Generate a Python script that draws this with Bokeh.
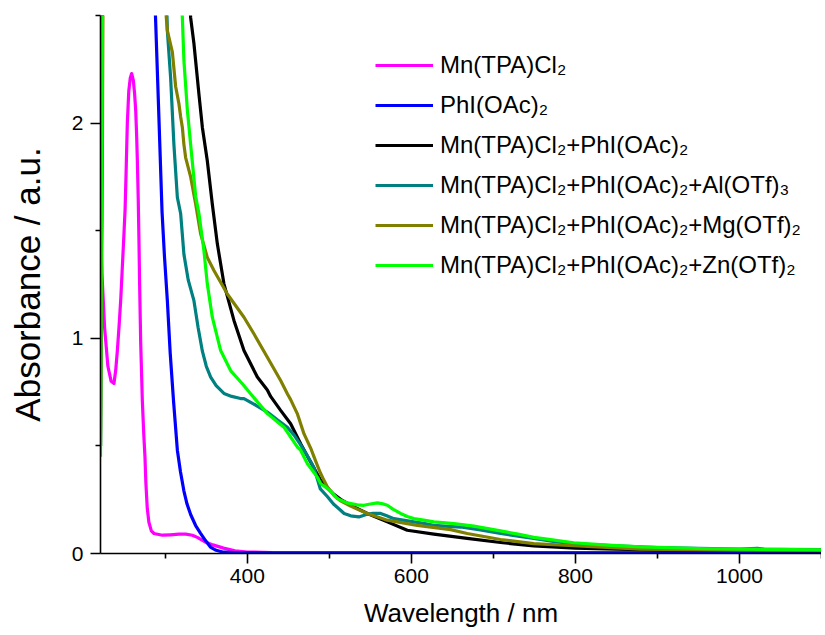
from bokeh.plotting import figure
from bokeh.models import Range1d, FixedTicker, Legend, LegendItem
from bokeh.embed import file_html
from bokeh.resources import INLINE

# ---- data ----
mn_nm = [221, 222.8, 226, 230, 234, 237.4, 239.5, 241.5, 243.5, 245.6, 247.6, 249.6, 251, 252.4, 253.7,
         255.5, 257.3, 259, 261, 262.5, 263.9, 265, 265.9, 267, 267.9, 268.7, 270, 272, 273.8, 275.2,
         276.3, 278, 280, 283, 286.2, 296.4, 306, 316.6, 325, 333, 339, 348, 358, 371, 385, 400, 430,
         500, 700, 900, 1100]
mn_abs = [1.55, 1.30, 1.05, 0.87, 0.80, 0.79, 0.85, 0.94, 1.05, 1.175, 1.33, 1.485, 1.60, 1.80, 2.0,
          2.15, 2.21, 2.23, 2.20, 2.14, 2.06, 1.95, 1.83, 1.65, 1.45, 1.25, 0.98, 0.71, 0.55, 0.45,
          0.33, 0.21, 0.145, 0.105, 0.093, 0.085, 0.087, 0.09, 0.09, 0.085, 0.075, 0.055, 0.04, 0.025,
          0.012, 0.007, 0.004, 0.003, 0.003, 0.003, 0.003]

phi_nm = [221, 250, 280, 286, 288, 292, 296, 299, 302.5, 306, 310, 314.7, 318.5, 322.7, 326.5, 331,
          337, 343, 349, 355, 362, 371, 385, 400, 500, 700, 900, 1100]
phi_abs = [3.0, 3.0, 2.9, 2.7, 2.5, 2.05, 1.59, 1.38, 1.175, 0.93, 0.71, 0.48, 0.38, 0.29, 0.23, 0.18,
           0.13, 0.094, 0.06, 0.03, 0.015, 0.006, 0.004, 0.003, 0.003, 0.003, 0.003, 0.003]

mix_nm = [221, 222, 223.5, 225, 300, 328, 330.9, 334.9, 341, 345.2, 351.2, 357.3, 363.4, 371.5, 383.7,
          395.9, 412.2, 424.4, 428.4, 440.6, 452.8, 465, 477.2, 489.4, 497.5, 505.6, 513.7, 525.9,
          546.3, 570.6, 595, 627.4, 668, 708.7, 749.3, 800, 850, 900, 1000, 1100]
mix_abs = [0.5, 1.6, 2.6, 3.0, 3.2, 2.7, 2.49, 2.37, 2.135, 1.98, 1.825, 1.624, 1.44, 1.253, 1.083,
           0.943, 0.82, 0.76, 0.73, 0.665, 0.603, 0.51, 0.425, 0.34, 0.305, 0.275, 0.252, 0.225,
           0.186, 0.147, 0.108, 0.09, 0.07, 0.051, 0.035, 0.025, 0.02, 0.017, 0.014, 0.012]

al_nm = [221, 222, 223.5, 225, 290, 300, 302.5, 306.5, 310.5, 314.7, 318.7, 322.7, 328, 334.9, 340,
         345.2, 350, 355.3, 362, 371.5, 381, 391.8, 395.9, 410, 424.4, 437, 448.8, 457, 465, 473,
         481.2, 489, 497.5, 505, 514, 518, 526, 536, 546, 553, 562.5, 570, 578.7, 590, 603, 615, 627,
         645, 660, 684, 708.7, 730, 749, 775, 800, 850, 900, 950, 1000, 1022, 1030, 1050, 1100]
al_abs = [0.5, 1.6, 2.6, 3.0, 3.2, 2.8, 2.43, 2.21, 1.90, 1.655, 1.58, 1.39, 1.27, 1.175, 1.05,
          0.94, 0.87, 0.82, 0.78, 0.744, 0.73, 0.72, 0.72, 0.69, 0.657, 0.62, 0.587, 0.55, 0.505, 0.455,
          0.40, 0.30, 0.265, 0.23, 0.20, 0.186, 0.175, 0.17, 0.182, 0.187, 0.186, 0.175, 0.162, 0.155,
          0.147, 0.14, 0.131, 0.126, 0.123, 0.11, 0.093, 0.08, 0.07, 0.055, 0.045, 0.035, 0.028, 0.024,
          0.021, 0.024, 0.02, 0.019, 0.018]

mg_nm = [221, 222, 223, 224, 225, 290, 300, 302.5, 308.6, 312.6, 316.6, 318.7, 320.8, 322.7, 324.8,
         330.9, 337, 343.1, 351.2, 359.3, 375.6, 395.9, 408, 424.4, 440.6, 448.8, 452.8, 460.9, 469,
         477.2, 481.2, 485.3, 489, 493.4, 497.5, 505.6, 513.7, 525.9, 546.3, 570.6, 607.2, 647.8, 668.1,
         708.7, 749.3, 798, 879.3, 1001, 1100]
mg_abs = [0.5, 1.2, 1.55, 2.6, 3.0, 3.2, 2.55, 2.43, 2.33, 2.17, 2.09, 2.03, 1.98, 1.90, 1.84,
          1.75, 1.624, 1.485, 1.376, 1.315, 1.206, 1.098, 1.021, 0.912, 0.804, 0.742, 0.715, 0.65, 0.557,
          0.49, 0.45, 0.41, 0.375, 0.34, 0.31, 0.27, 0.245, 0.22, 0.186, 0.155, 0.131, 0.111, 0.093,
          0.065, 0.046, 0.036, 0.02, 0.015, 0.015]

zn_nm = [221, 222, 223.5, 225, 300, 318, 320.8, 322.7, 326.9, 330.9, 337, 341, 347.1, 351.2, 357.3,
         367.5, 379.6, 393.9, 404, 424.4, 444.6, 460.9, 465, 473.1, 485.3, 489.4, 501.5, 509.7, 521.9,
         534, 542.1, 550, 558.4, 564, 570.6, 578, 586.8, 595, 603, 615, 627.4, 651.8, 676.2, 708.7,
         730, 749.3, 767.6, 798, 839, 879, 960, 1100]
zn_abs = [0.45, 1.6, 2.6, 3.0, 3.2, 2.7, 2.49, 2.29, 2.06, 1.90, 1.66, 1.58, 1.407, 1.253, 1.098,
          0.943, 0.85, 0.789, 0.742, 0.65, 0.587, 0.495, 0.48, 0.418, 0.355, 0.325, 0.29, 0.255, 0.235,
          0.226, 0.224, 0.23, 0.235, 0.232, 0.224, 0.205, 0.186, 0.172, 0.162, 0.155, 0.147, 0.139,
          0.127, 0.105, 0.09, 0.075, 0.066, 0.05, 0.039, 0.031, 0.022, 0.017]

labels = ["Mn(TPA)Cl\u2082",
          "PhI(OAc)\u2082",
          "Mn(TPA)Cl\u2082+PhI(OAc)\u2082",
          "Mn(TPA)Cl\u2082+PhI(OAc)\u2082+Al(OTf)\u2083",
          "Mn(TPA)Cl\u2082+PhI(OAc)\u2082+Mg(OTf)\u2082",
          "Mn(TPA)Cl\u2082+PhI(OAc)\u2082+Zn(OTf)\u2082"]
colors = ["#FF00FF", "#0000FF", "#000000", "#008080", "#808000", "#00FF00"]

x_major = [400, 600, 800, 1000]
x_minor = [300, 500, 700, 900, 1100]
y_major = [0, 1, 2]
y_minor = [0.5, 1.5, 2.5]

FONT = "Liberation Sans"

p = figure(width=821, height=630, x_range=Range1d(221, 1100), y_range=Range1d(0, 2.5),
           output_backend="svg", toolbar_location=None,
           min_border_left=100, min_border_right=0, min_border_top=15, min_border_bottom=77)
p.outline_line_color = None
p.grid.visible = False
p.background_fill_color = "white"

for ax, maj, mnr in ((p.xaxis[0], x_major, x_minor), (p.yaxis[0], y_major, y_minor)):
    ax.ticker = FixedTicker(ticks=maj, minor_ticks=mnr)
    ax.axis_line_width = 1.6
    ax.axis_line_color = "black"
    ax.major_tick_in = 0
    ax.major_tick_out = 10
    ax.minor_tick_in = 0
    ax.minor_tick_out = 5
    ax.major_tick_line_width = 1.6
    ax.minor_tick_line_width = 1.6
    ax.major_label_text_font = FONT
    ax.major_label_text_font_size = "21px"
    ax.major_label_text_color = "black"
    ax.axis_label_text_font = FONT
    ax.axis_label_text_font_style = "normal"
    ax.axis_label_text_color = "black"

p.xaxis[0].axis_label = "Wavelength / nm"
p.yaxis[0].axis_label = "Absorbance / a.u."
p.xaxis[0].axis_label_text_font_size = "26px"
p.yaxis[0].axis_label_text_font_size = "35px"
p.xaxis[0].major_label_standoff = 5
p.xaxis[0].axis_label_standoff = 12
p.yaxis[0].major_label_standoff = 7
p.yaxis[0].axis_label_standoff = 22
p.yaxis[0].major_label_orientation = "horizontal"

series = [(mn_nm, mn_abs), (phi_nm, phi_abs), (mix_nm, mix_abs),
          (al_nm, al_abs), (mg_nm, mg_abs), (zn_nm, zn_abs)]
renderers = []
for (xs, ys), c in zip(series, colors):
    r = p.line(xs, ys, line_color=c, line_width=3.2, line_join="round")
    renderers.append(r)

items = [LegendItem(label=lab, renderers=[r]) for lab, r in zip(labels, renderers)]
legend = Legend(items=items, location=(275, 268), orientation="vertical",
                border_line_color=None, background_fill_alpha=0,
                glyph_width=58, glyph_height=40, label_height=40, label_standoff=7,
                spacing=0, padding=0, margin=0,
                label_text_font=FONT, label_text_font_size="24px", label_text_color="black")
p.add_layout(legend)

open("out.html", "w").write(file_html(p, INLINE))
